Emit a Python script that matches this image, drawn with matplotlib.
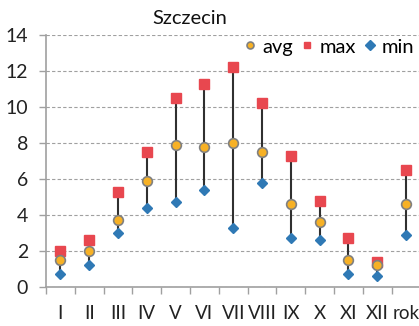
import matplotlib
matplotlib.use("Agg")
import matplotlib.pyplot as plt
import numpy as np

plt.rcParams['font.family'] = ['Lato', 'DejaVu Sans']

categories = ["I", "II", "III", "IV", "V", "VI", "VII", "VIII", "IX", "X", "XI", "XII", "rok"]
avg_vals = [1.5, 2.0, 3.7, 5.9, 7.9, 7.8, 8.0, 7.5, 4.6, 3.6, 1.5, 1.2, 4.6]
max_vals = [2.0, 2.6, 5.3, 7.5, 10.5, 11.3, 12.2, 10.2, 7.3, 4.8, 2.7, 1.4, 6.5]
min_vals = [0.7, 1.2, 3.0, 4.4, 4.7, 5.4, 3.3, 5.8, 2.7, 2.6, 0.7, 0.6, 2.9]
yticks = [0, 2, 4, 6, 8, 10, 12, 14]

fig = plt.figure(figsize=(4.19, 3.26), dpi=100)
ax = fig.add_axes([46/419, 39/326, 374.4/419, 252/326])

x = np.arange(len(categories))
ax.vlines(x, min_vals, max_vals, color='#303030', lw=1.5, zorder=2)
ax.plot(x, avg_vals, 'o', ls='none', color='#F7B125', mec='#808080', mew=1.2, ms=7, zorder=4, label='avg')
ax.plot(x, max_vals, 's', ls='none', color='#E8474F', mec='#E8474F', ms=6.5, zorder=3, label='max')
ax.plot(x, min_vals, 'D', ls='none', color='#2F79B5', mec='#2F79B5', ms=5, zorder=5, label='min')

ax.set_xlim(-0.5, len(categories) - 0.5)
ax.set_ylim(0, 14)
ax.set_yticks(yticks)
ax.set_yticklabels([str(v) for v in yticks])
ax.set_xticks(x)
ax.set_xticklabels(categories)
ax.set_xticks(np.arange(len(categories) + 1) - 0.5, minor=True)
ax.tick_params(axis='x', which='major', length=0, pad=13, labelsize=13.5, colors='#222222')
ax.tick_params(axis='x', which='minor', length=5, width=1, color='#A0A0A0', direction='out')
ax.tick_params(axis='y', which='major', length=5, width=1, color='#A0A0A0', pad=8, labelsize=14, labelcolor='#222222')

ax.yaxis.grid(True, ls=(0, (3, 2)), color='#A0A0A0', lw=0.8)
ax.set_axisbelow(True)
for s in ['top', 'right']:
    ax.spines[s].set_visible(False)
for s in ['left', 'bottom']:
    ax.spines[s].set_color('#A0A0A0')
    ax.spines[s].set_linewidth(1.2)

leg = ax.legend(ncol=3, loc='center right', bbox_to_anchor=(0.99, (287-47)/252), frameon=True,
                fontsize=14.5, handletextpad=0.25, columnspacing=0.35, handlelength=0.7,
                borderpad=0.1, borderaxespad=0)
leg.get_frame().set_edgecolor('none')
leg.get_frame().set_facecolor('white')
leg.get_frame().set_alpha(1)
for h in leg.legend_handles:
    h.set_markersize(5)

fig.text(190/419, 1 - 18/326, "Szczecin", ha='center', va='center', fontsize=14.5, color='#111111')

fig.savefig("out.png", dpi=100)
